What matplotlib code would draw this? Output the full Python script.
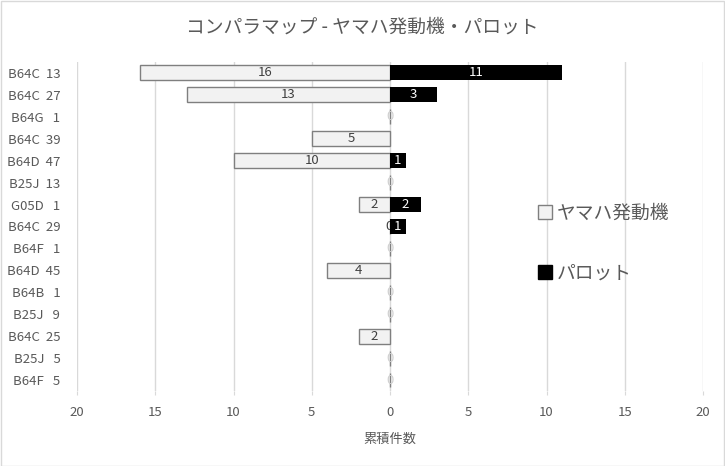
import numpy as np
import matplotlib
matplotlib.use("Agg")
import matplotlib.pyplot as plt
from matplotlib.patches import Rectangle
from matplotlib.lines import Line2D

plt.rcParams['font.family'] = ['Noto Sans CJK JP', 'DejaVu Sans']

# data (top to bottom)
categories = ['B64C  13', 'B64C  27', 'B64G   1', 'B64C  39', 'B64D  47',
              'B25J  13', 'G05D   1', 'B64C  29', 'B64F   1', 'B64D  45',
              'B64B   1', 'B25J   9', 'B64C  25', 'B25J   5', 'B64F   5']
yamaha = [16, 13, 0, 5, 10, 0, 2, 0, 0, 4, 0, 0, 2, 0, 0]
parrot = [11, 3, 0, 0, 1, 0, 2, 1, 0, 0, 0, 0, 0, 0, 0]
names = ['ヤマハ発動機', 'パロット']
xticks = [-20, -15, -10, -5, 0, 5, 10, 15, 20]

txt = '#595959'
grid = '#d9d9d9'

fig = plt.figure(figsize=(7.25, 4.66), dpi=100)
fig.patches.append(Rectangle((0.001, 0.001), 0.998, 0.997, transform=fig.transFigure,
                             fill=False, edgecolor=grid, linewidth=1))
ax = fig.add_axes([0.1062, 0.161, 0.8635, 0.706])

y = np.arange(len(categories))
left = -np.array(yamaha)
right = np.array(parrot)

ax.barh(y, left, height=0.68, color='#f2f2f2', edgecolor='#7f7f7f', linewidth=1, zorder=3)
ax.barh(y, right, height=0.68, color='black', linewidth=0, zorder=3)

# value labels; zero bars get a faint "0" at the axis
for yi, v, p in zip(y, yamaha, parrot):
    if v:
        ax.text(-v / 2, yi, str(v), ha='center', va='center', fontsize=9.5,
                color='#404040', zorder=4)
    elif p:
        ax.text(-0.05, yi, '0', ha='center', va='center', fontsize=9.5,
                color='#404040', zorder=2.5)
    else:
        ax.text(0, yi, '0', ha='center', va='center', fontsize=9.5,
                color='#d0d0d0', zorder=4)
for yi, v in zip(y, parrot):
    if v:
        ax.text(v / 2, yi, str(v), ha='center', va='center', fontsize=9.5,
                color='white', zorder=4)

ax.set_xlim(-20, 20)
ax.set_ylim(len(categories) - 0.5, -0.5)
ax.set_xticks(xticks)
ax.set_xticklabels([str(abs(t)) for t in xticks])
ax.set_yticks(y)
ax.set_yticklabels(categories)
ax.grid(axis='x', color=grid, linewidth=1, zorder=0)
for s in ax.spines.values():
    s.set_visible(False)
ax.tick_params(axis='x', length=3, color=grid, labelcolor=txt, labelsize=9.5, pad=8)
ax.tick_params(axis='y', length=0, labelcolor=txt, labelsize=9.5, pad=12)
ax.set_xlabel('累積件数', color=txt, fontsize=9.5, labelpad=10)

fig.suptitle('コンパラマップ - ヤマハ発動機・パロット', x=0.5, y=0.965, color=txt, fontsize=13.5)

handles = [Line2D([], [], marker='s', linestyle='none', markersize=10,
                  markerfacecolor='#f2f2f2', markeredgecolor='#7f7f7f'),
           Line2D([], [], marker='s', linestyle='none', markersize=10,
                  markerfacecolor='black', markeredgecolor='black')]
leg = fig.legend(handles, names, loc='center left', bbox_to_anchor=(0.716, 0.478),
                 frameon=False, fontsize=13.5, labelspacing=2.05, handletextpad=0.1,
                 handlelength=1.0)
for t in leg.get_texts():
    t.set_color(txt)

fig.savefig('out.png', dpi=100)
